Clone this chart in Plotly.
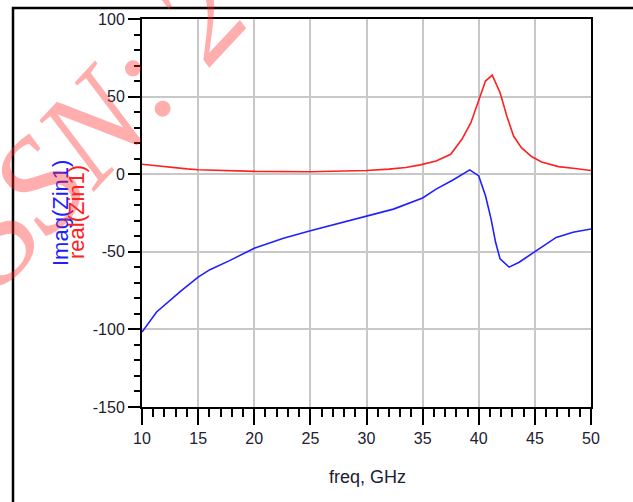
import plotly.graph_objects as go

# ---- data ----
freq_real = [10, 11, 12, 13, 14, 15, 17, 20, 25, 28, 30, 32, 33.5, 34.8, 36.2, 37.5, 38.5, 39.3,
             40.0, 40.6, 41.2, 41.9, 42.5, 43.1, 43.8, 44.7, 45.6, 47.1, 48.6, 50]
real_zin1 = [6.4, 5.6, 4.8, 4.0, 3.4, 2.9, 2.3, 1.8, 1.6, 1.8, 2.4, 3.3, 4.3, 6.0, 8.5, 12.8, 22.5, 33.2,
             48.2, 60.0, 63.8, 52.5, 37.5, 24.6, 17.1, 11.4, 7.9, 4.9, 3.7, 2.4]

freq_imag = [10, 11.3, 13.4, 15, 16.05, 17.8, 20, 22.6, 25, 30, 32.4, 35, 36.2, 37.7, 39.2, 40.0,
             40.6, 41.1, 41.5, 41.9, 42.7, 43.6, 45.1, 46.9, 48.4, 50]
imag_zin1 = [-101.7, -88.8, -75.6, -66.3, -61.5, -55.7, -47.7, -41.3, -36.4, -26.8, -22.5, -15.3, -9.6,
             -3.7, 2.8, -1.1, -13.9, -28.9, -43.9, -54.6, -59.9, -56.7, -49.2, -40.7, -37.4, -35.3]

x_tickvals = [10, 15, 20, 25, 30, 35, 40, 45, 50]
x_ticktext = ["10", "15", "20", "25", "30", "35", "40", "45", "50"]
y_tickvals = [-150, -100, -50, 0, 50, 100]
y_ticktext = ["-150", "-100", "-50", "0", "50", "100"]

W, H = 633, 502
# plot area in window pixels: x 142..591, y 19..407
L, T = 142, 19
R = W - 591
B = H - 407
PW, PH = W - L - R, H - T - B

def px(xp):
    return (xp - L) / PW

def py(yp):
    return (H - B - yp) / PH

NARROW = "Liberation Sans Narrow, Arial Narrow, Liberation Sans, Arial, sans-serif"
TICKCOL = "#202030"

fig = go.Figure()
fig.add_trace(go.Scatter(x=freq_real, y=real_zin1, mode="lines",
                         line=dict(color="#ff2020", width=1.6), showlegend=False))
fig.add_trace(go.Scatter(x=freq_imag, y=imag_zin1, mode="lines",
                         line=dict(color="#2020ff", width=1.6), showlegend=False))

fig.update_layout(
    width=W, height=H,
    margin=dict(l=L, r=R, t=T, b=B),
    paper_bgcolor="white", plot_bgcolor="white",
    font=dict(family=NARROW, color=TICKCOL),
    xaxis=dict(range=[10, 50], tickvals=x_tickvals, ticktext=x_ticktext, ticks="outside",
               ticklen=16, tickwidth=2, tickcolor="black", showline=True, linecolor="black",
               linewidth=2, mirror=True, showgrid=True, gridcolor="#c8c8c8", gridwidth=2,
               zeroline=False, tickfont=dict(size=16, family=NARROW, color=TICKCOL),
               minor=dict(dtick=1, ticks="outside", ticklen=8, tickwidth=2, tickcolor="black",
                          showgrid=False)),
    yaxis=dict(range=[-150, 100], tickvals=y_tickvals, ticktext=y_ticktext, ticks="outside",
               ticklen=12, tickwidth=2, tickcolor="black", showline=True, linecolor="black",
               linewidth=2, mirror=True, showgrid=True, gridcolor="#c8c8c8", gridwidth=2,
               zeroline=False, tickfont=dict(size=16, family=NARROW, color=TICKCOL),
               minor=dict(dtick=10, ticks="outside", ticklen=6, tickwidth=2, tickcolor="black",
                          showgrid=False)),
)

# axis titles
fig.add_annotation(text="Imag(Zin1)", xref="paper", yref="paper", x=px(60), y=py(213),
                   textangle=-90, showarrow=False, xanchor="center", yanchor="middle",
                   font=dict(size=22, family=NARROW, color="#2020ff"))
fig.add_annotation(text="real(Zin1)", xref="paper", yref="paper", x=px(76), y=py(212),
                   textangle=-90, showarrow=False, xanchor="center", yanchor="middle",
                   font=dict(size=22, family=NARROW, color="#ff2020"))
fig.add_annotation(text="freq, GHz", xref="paper", yref="paper", x=px(367), y=py(477),
                   showarrow=False, xanchor="center", yanchor="middle",
                   font=dict(size=18, family=NARROW, color=TICKCOL))

# watermark
fig.add_annotation(text="<i>ISSN: 2</i>", xref="paper", yref="paper", x=px(79), y=py(140),
                   textangle=-47, showarrow=False, xanchor="center", yanchor="middle",
                   font=dict(size=135, family="Liberation Serif, Times New Roman, serif",
                             color="rgba(255,40,40,0.38)"))

# outer frame
fig.add_shape(type="rect", xref="paper", yref="paper", x0=px(13), y0=py(600), x1=px(700), y1=py(8),
              line=dict(color="black", width=2.5), fillcolor="rgba(0,0,0,0)")

fig.write_html("out.html", config={"displayModeBar": False},
               post_script="document.body.style.margin='0';document.body.style.overflow='hidden';")
